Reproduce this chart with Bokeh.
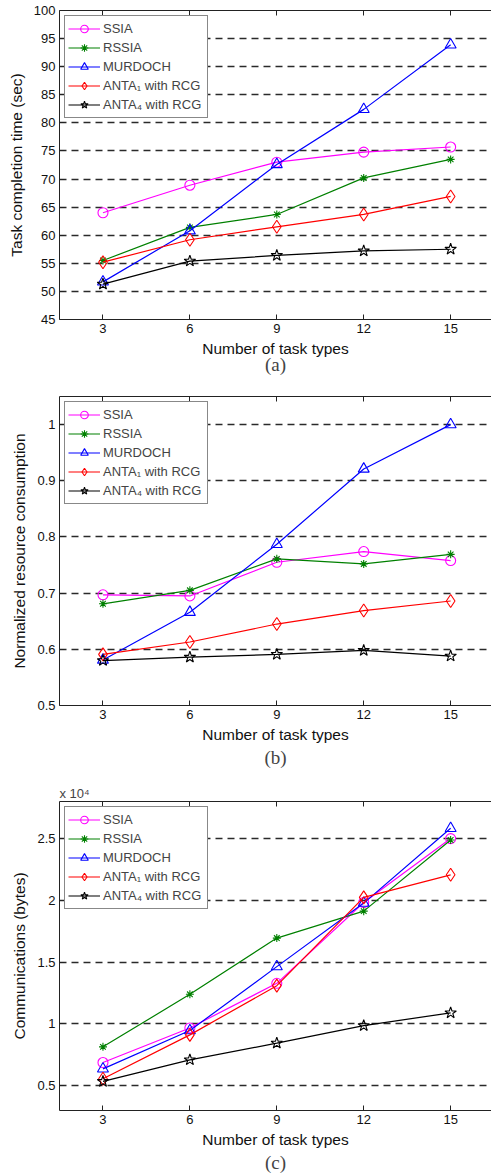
from bokeh.plotting import figure
from bokeh.layouts import column
from bokeh.models import (Range1d, FixedTicker, LinearAxis, Title, Legend,
                          LegendItem, CustomJSTickFormatter)
from bokeh.embed import file_html
from bokeh.resources import INLINE

# ---------------- data ----------------
task_types = [3, 6, 9, 12, 15]
series_names = ["SSIA", "RSSIA", "MURDOCH", "ANTA\u2081 with RCG", "ANTA\u2084 with RCG"]

time_ssia = [64.0, 68.9, 73.0, 74.8, 75.7]
time_rssia = [55.5, 61.4, 63.7, 70.2, 73.5]
time_murdoch = [51.7, 60.8, 72.6, 82.4, 93.9]
time_anta1 = [55.2, 59.2, 61.5, 63.7, 66.9]
time_anta4 = [51.3, 55.4, 56.4, 57.2, 57.5]

res_ssia = [0.697, 0.695, 0.755, 0.774, 0.758]
res_rssia = [0.681, 0.705, 0.761, 0.752, 0.769]
res_murdoch = [0.581, 0.666, 0.787, 0.921, 1.0]
res_anta1 = [0.591, 0.613, 0.645, 0.669, 0.686]
res_anta4 = [0.580, 0.586, 0.591, 0.598, 0.588]

comm_ssia = [6880, 9680, 13290, 19830, 25000]
comm_rssia = [8150, 12400, 16950, 19130, 24890]
comm_murdoch = [6370, 9470, 14640, 19780, 25830]
comm_anta1 = [5570, 9120, 13100, 20240, 22070]
comm_anta4 = [5350, 7100, 8450, 9870, 10900]

time_ticks = [45, 50, 55, 60, 65, 70, 75, 80, 85, 90, 95, 100]
res_ticks = [0.5, 0.6, 0.7, 0.8, 0.9, 1.0]
comm_ticks = [5000, 10000, 15000, 20000, 25000]

# ---------------- styles ----------------
COLORS = ["#FF00FF", "#008000", "#0000FF", "#FF0000", "#000000"]
MARKERS = ["circle", "asterisk", "triangle", "diamond", "star"]
MSIZES = [10, 8, 11, 13, 12]
FONT = "Liberation Sans"


def make_panel(series, yticks, y_start, y_end, ylabel, caption,
               top_border, bottom_border, cap_standoff,
               formatter=None, scale_note=None):
    frame_h = 309
    p = figure(width=491, height=top_border + frame_h + bottom_border,
               x_range=Range1d(1.5, 16.41), y_range=Range1d(y_start, y_end),
               output_backend="svg", toolbar_location=None,
               min_border_left=59, min_border_right=0,
               min_border_top=top_border, min_border_bottom=bottom_border)
    p.outline_line_color = None
    p.background_fill_color = "white"
    p.border_fill_color = "white"

    items = []
    for vals, name, col, mk, ms in zip(series, series_names, COLORS,
                                       MARKERS, MSIZES):
        ln = p.line(task_types, vals, line_color=col, line_width=1.2)
        sc = p.scatter(task_types, vals, marker=mk, size=ms,
                       line_color=col, fill_color=None, line_width=1.1)
        items.append(LegendItem(label=name, renderers=[ln, sc]))

    # axes
    p.xaxis.ticker = FixedTicker(ticks=task_types)
    p.yaxis.ticker = FixedTicker(ticks=yticks)
    if formatter is not None:
        p.yaxis.formatter = formatter
    for ax in (p.xaxis[0], p.yaxis[0]):
        ax.major_tick_in = 5
        ax.major_tick_out = 0
        ax.minor_tick_line_color = None
        ax.axis_line_color = "#222222"
        ax.major_tick_line_color = "#222222"
        ax.major_label_text_font = FONT
        ax.major_label_text_font_size = "13px"
        ax.major_label_text_color = "#111111"
        ax.axis_label_text_font = FONT
        ax.axis_label_text_font_size = "15.5px"
        ax.axis_label_text_font_style = "normal"
        ax.axis_label_text_color = "#111111"
        ax.major_label_standoff = 4
    p.xaxis.axis_label = "Number of task types"
    p.xaxis.axis_label_standoff = 4
    p.yaxis.axis_label = ylabel
    p.yaxis.axis_label_standoff = 6

    top = LinearAxis(ticker=FixedTicker(ticks=task_types), major_tick_in=5,
                     major_tick_out=0, minor_tick_line_color=None,
                     formatter=CustomJSTickFormatter(code="return '';"),
                     major_label_text_font_size="1px", axis_line_color="#222222",
                     major_tick_line_color="#222222", major_label_standoff=0)
    p.add_layout(top, "above")
    if scale_note:
        p.add_layout(Title(text=scale_note, align="left", text_font=FONT,
                           text_font_size="13px", text_font_style="normal",
                           standoff=2), "above")

    p.xgrid.grid_line_color = None
    p.ygrid.grid_line_color = "#2a2a2a"
    p.ygrid.grid_line_dash = "7 5"
    p.ygrid.grid_line_width = 1.4

    leg = Legend(items=items, location="top_left", margin=5, padding=3,
                 spacing=0, label_height=19, glyph_height=19, glyph_width=32,
                 label_standoff=3, label_width=101, label_text_font=FONT,
                 label_text_font_size="13px", border_line_color="#111111",
                 border_line_width=1, background_fill_alpha=1.0)
    p.add_layout(leg)

    p.add_layout(Title(text=caption, align="center", text_font="Liberation Serif",
                       text_font_size="19px", text_font_style="normal",
                       standoff=cap_standoff), "below")
    return p


pa = make_panel([time_ssia, time_rssia, time_murdoch, time_anta1, time_anta4],
                time_ticks, 45, 100, "Task completion time (sec)", "(a)", 10, 59, -16)
pb = make_panel([res_ssia, res_rssia, res_murdoch, res_anta1, res_anta4],
                res_ticks, 0.5, 1.05, "Normalized resource consumption", "(b)", 18, 70, -2)
pc = make_panel([comm_ssia, comm_rssia, comm_murdoch, comm_anta1, comm_anta4],
                comm_ticks, 3000, 28000, "Communications (bytes)", "(c)", 26, 63, -2,
                formatter=CustomJSTickFormatter(code="return (tick/10000).toString();"),
                scale_note="x 10\u2074")

layout = column(pa, pb, pc, spacing=0)
open("out.html", "w").write(file_html(layout, INLINE))
